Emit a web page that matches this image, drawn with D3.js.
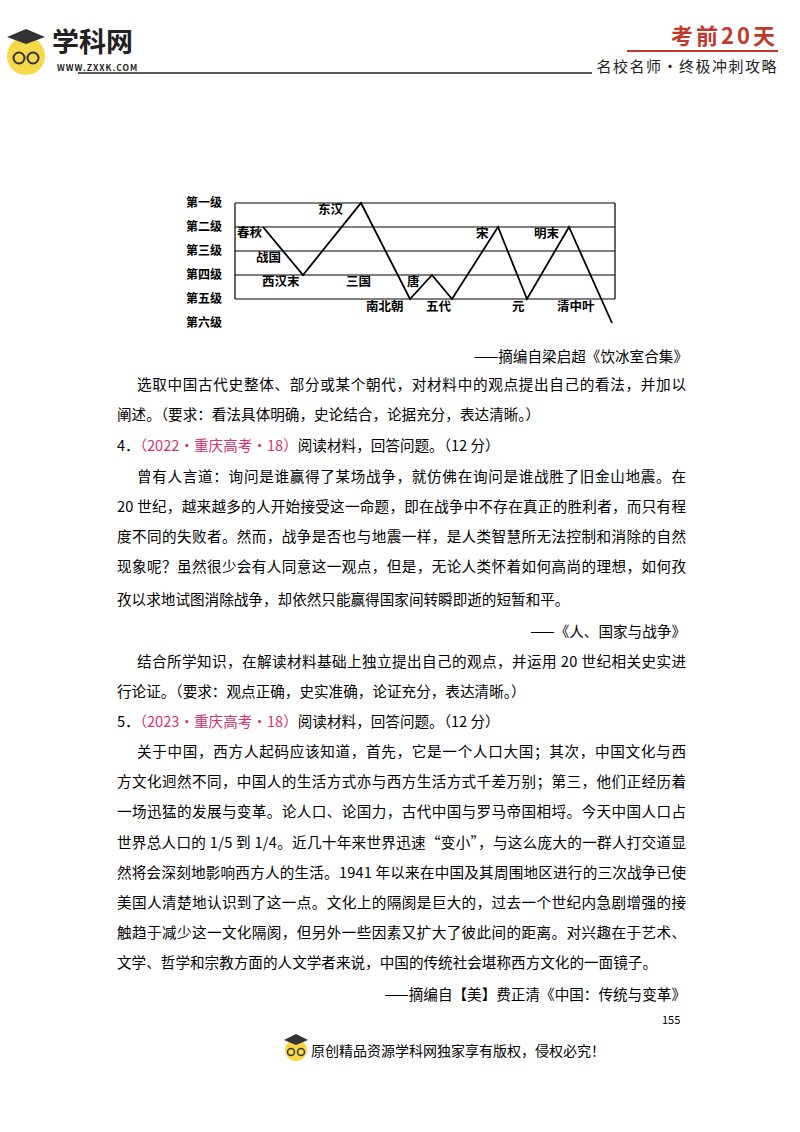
<!doctype html>
<html>
<head>
<meta charset="utf-8">
<script src="https://cdn.jsdelivr.net/npm/d3@7"></script>
<style>
body{margin:0;background:#fff;}
svg text{font-family:"Noto Sans CJK SC","Noto Sans",sans-serif;}
</style>
</head>
<body>
<div id="page"></div>
<script>
// chart data: levels and the dynasty line (position along the time axis, level)
var levels = ["第一级","第二级","第三级","第四级","第五级","第六级"];
var periods = [28, 68, 126, 175, 197, 217, 263, 292, 334, 377];
var periodLevel = [2, 4, 1, 5, 4, 5, 2, 5, 2, 6];
var dynasties = ["春秋","战国","西汉末","东汉","三国","南北朝","唐","五代","宋","元","明末","清中叶"];
var dynastyPos = [2, 21, 27, 83, 111, 131, 172, 191, 241, 277, 299, 322];
var dynastyLevel = [2.25, 3.3, 4.3, 1.3, 4.3, 5.35, 4.3, 5.35, 2.3, 5.35, 2.3, 5.35];

var W = 800, H = 1132;
var svg = d3.select("#page").append("svg").attr("width",W).attr("height",H);

// header
svg.append("circle").attr("cx",26).attr("cy",56).attr("r",19).attr("fill","#f7d84a");
svg.append("path").attr("d","M7,37 L26,29 L45,37 L26,44 Z").attr("fill","#333");
svg.append("circle").attr("cx",19).attr("cy",58).attr("r",5.5).attr("fill","none").attr("stroke","#333").attr("stroke-width",2);
svg.append("circle").attr("cx",33).attr("cy",58).attr("r",5.5).attr("fill","none").attr("stroke","#333").attr("stroke-width",2);
svg.append("text").attr("x",52).attr("y",52).attr("font-size",27).attr("font-weight","bold").attr("fill","#222").text("学科网");
svg.append("text").attr("x",57).attr("y",71).attr("font-size",8.5).attr("font-weight","bold").attr("letter-spacing",1).attr("fill","#222").text("WWW.ZXXK.COM");
svg.append("line").attr("x1",78).attr("x2",592).attr("y1",73).attr("y2",73).attr("stroke","#222").attr("stroke-width",1.5);
svg.append("text").attr("x",778).attr("y",44).attr("text-anchor","end").attr("font-size",22).attr("font-weight","bold").attr("letter-spacing",3).attr("fill","#c0392b").text("考前20天");
svg.append("line").attr("x1",627).attr("x2",778).attr("y1",51).attr("y2",51).attr("stroke","#c0392b").attr("stroke-width",2);
svg.append("text").attr("x",778).attr("y",72).attr("text-anchor","end").attr("font-size",15).attr("letter-spacing",1.5).attr("fill","#222").text("名校名师·终极冲刺攻略");

// chart
var x = d3.scaleLinear().domain([0,380]).range([235,615]);
var y = d3.scaleLinear().domain([1,6]).range([203,323]);
var g = svg.append("g");
g.selectAll("line.lv").data([1,2,3,4,5]).enter().append("line")
  .attr("x1",x(0)).attr("x2",x(380)).attr("y1",d=>y(d)).attr("y2",d=>y(d))
  .attr("stroke","#000").attr("stroke-width",1.2);
g.append("line").attr("x1",x(0)).attr("x2",x(0)).attr("y1",y(1)).attr("y2",y(5)).attr("stroke","#000").attr("stroke-width",1.2);
g.append("line").attr("x1",x(380)).attr("x2",x(380)).attr("y1",y(1)).attr("y2",y(5)).attr("stroke","#000").attr("stroke-width",1.2);
g.selectAll("text.lv").data(levels).enter().append("text")
  .attr("x",186).attr("y",(d,i)=>y(i+1)+4).attr("font-size",12).attr("font-weight","bold").text(d=>d);
var pts = periods.map((p,i)=>[p,periodLevel[i]]);
g.append("path").attr("d",d3.line().x(d=>x(d[0])).y(d=>y(d[1]))(pts))
  .attr("fill","none").attr("stroke","#000").attr("stroke-width",1.8);
g.selectAll("text.dy").data(dynasties).enter().append("text")
  .attr("x",(d,i)=>x(dynastyPos[i])).attr("y",(d,i)=>y(dynastyLevel[i])+4)
  .attr("font-size",12.5).attr("font-weight","bold").text(d=>d);

// body text
var red = "#d6336c";
var L = 117, I = 137, R = 686;
var rows = [
  {y:362, t:"——摘编自梁启超《饮冰室合集》", a:"end", x:688},
  {y:390, t:"选取中国古代史整体、部分或某个朝代，对材料中的观点提出自己的看法，并加以", x:I, j:true},
  {y:420, t:"阐述。（要求：看法具体明确，史论结合，论据充分，表达清晰。）", x:L},
  {y:451, parts:[["4．","#000"],["（2022·重庆高考·18）",red],["阅读材料，回答问题。（12 分）","#000"]], x:L},
  {y:482, t:"曾有人言道：询问是谁赢得了某场战争，就仿佛在询问是谁战胜了旧金山地震。在", x:I, j:true},
  {y:512, t:"20 世纪，越来越多的人开始接受这一命题，即在战争中不存在真正的胜利者，而只有程", x:L, j:true},
  {y:542, t:"度不同的失败者。然而，战争是否也与地震一样，是人类智慧所无法控制和消除的自然", x:L, j:true},
  {y:572, t:"现象呢？虽然很少会有人同意这一观点，但是，无论人类怀着如何高尚的理想，如何孜", x:L, j:true},
  {y:605, t:"孜以求地试图消除战争，却依然只能赢得国家间转瞬即逝的短暂和平。", x:L},
  {y:637, t:"——《人、国家与战争》", a:"end", x:R},
  {y:667, t:"结合所学知识，在解读材料基础上独立提出自己的观点，并运用 20 世纪相关史实进", x:I, j:true},
  {y:697, t:"行论证。（要求：观点正确，史实准确，论证充分，表达清晰。）", x:L},
  {y:727, parts:[["5．","#000"],["（2023·重庆高考·18）",red],["阅读材料，回答问题。（12 分）","#000"]], x:L},
  {y:757, t:"关于中国，西方人起码应该知道，首先，它是一个人口大国；其次，中国文化与西", x:I, j:true},
  {y:787, t:"方文化迥然不同，中国人的生活方式亦与西方生活方式千差万别；第三，他们正经历着", x:L, j:true},
  {y:817, t:"一场迅猛的发展与变革。论人口、论国力，古代中国与罗马帝国相埒。今天中国人口占", x:L, j:true},
  {y:848, t:"世界总人口的 1/5 到 1/4。近几十年来世界迅速“变小”，与这么庞大的一群人打交道显", x:L, j:true},
  {y:878, t:"然将会深刻地影响西方人的生活。1941 年以来在中国及其周围地区进行的三次战争已使", x:L, j:true},
  {y:908, t:"美国人清楚地认识到了这一点。文化上的隔阂是巨大的，过去一个世纪内急剧增强的接", x:L, j:true},
  {y:938, t:"触趋于减少这一文化隔阂，但另外一些因素又扩大了彼此间的距离。对兴趣在于艺术、", x:L, j:true},
  {y:968, t:"文学、哲学和宗教方面的人文学者来说，中国的传统社会堪称西方文化的一面镜子。", x:L},
  {y:1000, t:"——摘编自【美】费正清《中国：传统与变革》", a:"end", x:R}
];
rows.forEach(function(r){
  var t = svg.append("text").attr("x",r.x).attr("y",r.y).attr("font-size",14.6).attr("fill","#000");
  if (r.parts) {
    r.parts.forEach(p=>t.append("tspan").attr("fill",p[1]).text(p[0]));
  } else {
    t.text(r.t);
    if (r.a) t.attr("text-anchor",r.a);
    if (r.j) t.attr("textLength",R-r.x).attr("lengthAdjust","spacing");
  }
});

// footer
svg.append("text").attr("x",662).attr("y",1024).attr("font-size",11).text("155");
svg.append("circle").attr("cx",296).attr("cy",1050).attr("r",11).attr("fill","#f7d84a");
svg.append("path").attr("d","M284,1040 L296,1034 L308,1040 L296,1045 Z").attr("fill","#333");
svg.append("circle").attr("cx",291).attr("cy",1052).attr("r",3.5).attr("fill","none").attr("stroke","#333").attr("stroke-width",1.5);
svg.append("circle").attr("cx",301).attr("cy",1052).attr("r",3.5).attr("fill","none").attr("stroke","#333").attr("stroke-width",1.5);
svg.append("text").attr("x",311).attr("y",1056).attr("font-size",14).text("原创精品资源学科网独家享有版权，侵权必究！");
</script>
</body>
</html>
